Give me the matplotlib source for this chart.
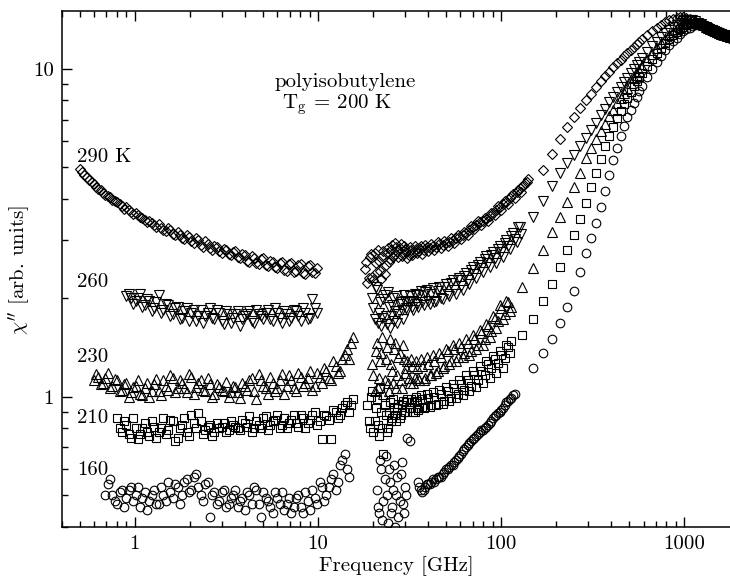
import numpy as np
import matplotlib
matplotlib.use('Agg')
import matplotlib.pyplot as plt
from matplotlib.ticker import LogLocator, NullFormatter

plt.rcParams['font.family'] = ['cmr10']
plt.rcParams['mathtext.fontset'] = 'cm'
plt.rcParams['axes.formatter.use_mathtext'] = True
plt.rcParams['font.size'] = 15

n = np.nan

# frequency grids (GHz), two interleaved sweeps below 150 GHz
f_low = [0.50, 0.53, 0.56, 0.60, 0.63, 0.67, 0.71, 0.75, 0.80, 0.85,
         0.90, 0.95, 1.01, 1.07, 1.13, 1.20, 1.27, 1.35, 1.43, 1.52,
         1.61, 1.71, 1.81, 1.92, 2.03, 2.16, 2.29, 2.42, 2.57, 2.72,
         2.89, 3.06, 3.25, 3.44, 3.65, 3.87, 4.10, 4.35, 4.61, 4.89,
         5.18, 5.49, 5.83, 6.18, 6.55, 6.94, 7.36, 7.81, 8.28, 8.77,
         9.30, 9.86, 10.5, 11.1, 11.8, 12.5, 13.2, 14.0, 14.8, 15.5]
f_low_b = [0.515, 0.545, 0.58, 0.615, 0.65, 0.69, 0.73, 0.775, 0.825, 0.875,
           0.925, 0.98, 1.04, 1.10, 1.165, 1.235, 1.31, 1.39, 1.475, 1.565,
           1.66, 1.76, 1.865, 1.975, 2.095, 2.225, 2.355, 2.495, 2.645, 2.805,
           2.975, 3.155, 3.345, 3.545, 3.76, 3.985, 4.225, 4.48, 4.75, 5.035,
           5.335, 5.66, 6.005, 6.365, 6.745, 7.15, 7.585, 8.045, 8.525, 9.035,
           9.58, 10.2, 10.8, 11.45, 12.15, 12.85, 13.6, 14.4, 15.15]

f_mid = [18.0, 18.6, 19.2, 19.8, 20.4, 21.0, 21.6, 22.2, 22.8, 23.4,
         24.0, 24.7, 25.4, 26.1, 26.8, 27.5, 28.3, 29.1, 29.9, 30.8,
         31.7, 32.7, 33.7, 34.7, 35.8, 37.0, 38.5, 40.0, 41.6, 43.3,
         45.1, 47.0, 49.0, 51.1, 53.3, 55.6, 58.0, 60.5, 63.1, 65.8,
         68.6, 71.6, 74.7, 77.9, 81.3, 84.8, 88.5, 92.3, 96.3, 100,
         105, 109, 114, 119, 124, 129, 135, 141]
f_mid_b = [18.3, 18.9, 19.5, 20.1, 20.7, 21.3, 21.9, 22.5, 23.1, 23.7,
           24.35, 25.05, 25.75, 26.45, 27.15, 27.9, 28.7, 29.5, 30.35, 31.25,
           32.2, 33.2, 34.2, 35.25, 36.4, 37.75, 39.25, 40.8, 42.45, 44.2,
           46.05, 48.0, 50.05, 52.2, 54.45, 56.8, 59.25, 61.8, 64.45, 67.2,
           70.1, 73.15, 76.3, 79.6, 83.05, 86.65, 90.4, 94.3, 98.2, 102.5,
           107, 111.5, 116.5, 121.5, 126.5, 132, 138]

f_high = [130, 150, 170, 190, 210, 230, 250, 270, 290, 310,
          330, 350, 370, 390, 410, 430, 450, 470, 490, 510,
          530, 550, 570, 590, 630, 670, 710, 750, 790, 830,
          870, 910, 950, 990, 1030, 1070, 1110, 1150, 1190, 1230,
          1270, 1310, 1350, 1390, 1430, 1470, 1510, 1550, 1590, 1630,
          1670, 1710, 1750, 1790]

# chi'' [arb. units]
# 290 K
chi_290_low = [4.95, 4.75, 4.58, 4.45, 4.30, 4.18, 4.10, 3.98, 3.92, 3.82,
               3.78, 3.66, 3.62, 3.52, 3.46, 3.42, 3.33, 3.36, 3.22, 3.26,
               3.14, 3.18, 3.05, 3.12, 2.98, 3.04, 2.90, 2.98, 2.84, 2.88,
               2.78, 2.82, 2.72, 2.76, 2.66, 2.72, 2.60, 2.68, 2.56, 2.62,
               2.52, 2.60, 2.48, 2.56, 2.44, 2.54, 2.40, 2.52, 2.38, 2.50,
               2.40, 2.46, n, n, n, n, n, n, n, n]
chi_290_low_b = [4.85, 4.68, 4.50, 4.36, 4.26, 4.12, 4.06, 3.94, 3.88, 3.74,
                 3.72, 3.60, 3.58, 3.50, 3.40, 3.38, 3.30, 3.27, 3.20, 3.22,
                 3.10, 3.12, 3.02, 3.06, 2.94, 3.00, 2.86, 2.92, 2.80, 2.86,
                 2.74, 2.80, 2.70, 2.78, 2.64, 2.70, 2.58, 2.64, 2.54, 2.64,
                 2.50, 2.58, 2.46, 2.58, 2.42, 2.56, 2.42, 2.54, 2.36, 2.52,
                 2.38, n, n, n, n, n, n, n, n]
chi_290_mid = [2.45, 2.22, 2.66, 2.32, 2.74, 2.40, 2.60, 2.28, 2.78, 2.52,
               2.84, 2.62, 2.90, 2.70, 2.86, 2.66, 2.92, 2.72, 2.82, 2.64,
               2.86, 2.70, 2.88, 2.74, 2.84, 2.72, 2.90, 2.78, 2.92, 2.80,
               2.96, 2.84, 2.98, 2.88, 3.04, 2.94, 3.10, 3.02, 3.18, 3.10,
               3.32, 3.24, 3.42, 3.34, 3.50, 3.44, 3.64, 3.58, 3.80, 3.72,
               3.95, 3.88, 4.10, 4.04, 4.28, 4.22, 4.48, 4.60]
chi_290_mid_b = [2.58, 2.30, 2.72, 2.26, 2.56, 2.80, 2.42, 2.68, 2.36, 2.74,
                 2.58, 2.80, 2.66, 2.94, 2.76, 2.84, 2.68, 2.88, 2.76, 2.70,
                 2.80, 2.76, 2.82, 2.78, 2.88, 2.80, 2.86, 2.84, 2.88, 2.86,
                 2.92, 2.90, 2.94, 2.96, 3.00, 3.04, 3.06, 3.12, 3.16, 3.22,
                 3.28, 3.34, 3.40, 3.44, 3.48, 3.56, 3.62, 3.70, 3.78, 3.86,
                 3.92, 4.02, 4.16, 4.20, 4.34, 4.40, 4.52]
chi_290_high = [n, n, 4.90, 5.48, 6.10, 6.65, 7.12, 7.58, 8.00, 8.40,
                8.80, 9.15, 9.48, 9.80, 10.1, 10.4, 10.65, 10.9, 11.15, 11.4,
                11.65, 11.9, 12.1, 12.3, 12.7, 13.05, 13.35, 13.6, 13.85, 14.05,
                14.2, 14.3, 14.35, 14.35, 14.3, 14.2, 14.0, 13.85, 13.7, 13.55,
                13.4, 13.3, 13.15, 13.05, 12.95, 12.85, 12.8, 12.7, 12.65, 12.6,
                12.55, 12.5, 12.45, 12.4]

# 260 K
chi_260_low = [n, n, n, n, n, n, n, n, n, n,
               2.02, 2.00, 1.96, 2.06, 1.90, 1.95, 1.86, 2.04, 1.84, 1.90,
               1.78, 1.88, 1.74, 1.86, 1.80, 1.70, 1.84, 1.76, 1.86, 1.72,
               1.80, 1.66, 1.78, 1.74, 1.82, 1.72, 1.78, 1.70, 1.84, 1.76,
               1.80, 1.72, 1.86, 1.74, 1.82, 1.70, 1.84, 1.76, 1.86, 1.72,
               1.98, 1.80, n, n, n, n, n, n, n, n]
chi_260_low_b = [n, n, n, n, n, n, n, n, n, n,
                 2.06, 1.92, 2.00, 1.88, 1.98, 1.82, 1.94, 1.80, 1.92, 1.76,
                 1.86, 1.72, 1.82, 1.70, 1.84, 1.76, 1.68, 1.80, 1.74, 1.84,
                 1.70, 1.82, 1.68, 1.78, 1.64, 1.76, 1.82, 1.68, 1.78, 1.72,
                 1.84, 1.70, 1.80, 1.68, 1.78, 1.74, 1.82, 1.70, 1.80, 1.74,
                 1.86, n, n, n, n, n, n, n, n]
chi_260_mid = [n, n, n, 2.00, 1.72, 2.12, 1.80, 1.64, 1.98, 1.76,
               2.08, 1.62, 1.90, 1.70, 2.02, 1.78, 1.94, 1.72, 1.96, 1.84,
               2.02, 1.88, 2.06, 1.92, 2.04, 1.94, 2.08, 1.96, 2.06, 1.94,
               2.10, 2.00, 2.16, 2.06, 2.22, 2.12, 2.26, 2.18, 2.34, 2.26,
               2.44, 2.36, 2.52, 2.46, 2.62, 2.56, 2.70, 2.64, 2.82, 2.76,
               2.94, 2.88, 3.08, 3.02, 3.28, 3.14, n, n]
chi_260_mid_b = [n, n, n, 1.86, 2.16, 1.68, 1.94, 1.74, 2.04, 1.66,
                 1.88, 1.76, 2.00, 1.82, 1.68, 1.92, 1.84, 2.04, 1.86, 1.94,
                 1.96, 1.84, 2.04, 1.88, 2.10, 1.90, 2.12, 1.92, 2.14, 1.96,
                 2.16, 1.98, 2.20, 2.02, 2.26, 2.06, 2.30, 2.12, 2.38, 2.20,
                 2.48, 2.30, 2.58, 2.40, 2.68, 2.48, 2.76, 2.56, 2.88, 2.66,
                 3.00, 2.82, 3.16, 2.96, 3.30, n, n]
chi_260_high = [n, 3.54, 3.95, 4.40, 4.80, 5.15, 5.45, 5.80, 6.15, 6.50,
                6.85, 7.20, 7.55, 7.90, 8.20, 8.50, 8.80, 9.10, 9.40, 9.70,
                10.0, 10.25, 10.5, 10.75, 11.25, 11.7, 12.1, 12.5, 12.85, 13.15,
                13.4, 13.6, 13.8, 13.95, 14.05, 14.1, 14.05, 13.95, 13.8, 13.65,
                13.5, 13.38, 13.25, 13.15, 13.05, 12.95, 12.88, 12.8, 12.72, 12.66,
                12.6, 12.55, 12.5, 12.45]

# 230 K
chi_230_low = [n, n, n, 1.12, 1.15, 1.10, 1.18, 1.08, 1.12, 1.05,
               1.10, 1.03, 1.08, 1.02, 1.06, 1.00, 1.09, 1.04, 1.12, 1.05,
               1.14, 1.06, 1.10, 1.03, 1.15, 1.07, 1.12, 1.04, 1.09, 1.02,
               1.07, 1.04, 1.00, 1.08, 1.03, 1.10, 1.05, 1.14, 0.98, 1.12,
               1.06, 1.15, 1.04, 1.12, 1.02, 1.16, 1.06, 1.18, 1.08, 1.14,
               1.05, 1.18, 1.10, 1.20, 1.12, 1.24, 1.20, 1.34, 1.30, 1.52]
chi_230_low_b = [n, n, n, 1.17, 1.09, 1.14, 1.06, 1.13, 1.04, 1.09,
                 1.00, 1.07, 1.12, 1.01, 1.10, 1.04, 1.13, 1.01, 1.08, 1.16,
                 1.03, 1.12, 1.06, 1.17, 1.02, 1.10, 1.05, 1.14, 1.00, 1.09,
                 1.05, 1.11, 1.03, 1.07, 0.99, 1.08, 1.12, 1.04, 1.17, 1.08,
                 1.02, 1.10, 1.06, 1.17, 1.08, 1.12, 1.04, 1.15, 1.10, 1.20,
                 1.08, 1.15, 1.22, 1.14, 1.28, 1.18, 1.30, 1.40, 1.46]
chi_230_mid = [n, n, n, 1.26, 1.04, 1.46, 1.14, 1.36, 1.02, 1.30,
               1.10, 1.50, 1.20, 1.40, 1.06, 1.32, 1.12, 1.44, 1.18, 1.28,
               1.10, 1.24, 1.14, 1.22, 1.12, 1.24, 1.14, 1.26, 1.16, 1.28,
               1.20, 1.32, 1.24, 1.38, 1.28, 1.40, 1.32, 1.42, 1.36, 1.46,
               1.38, 1.50, 1.44, 1.56, 1.50, 1.64, 1.58, 1.74, 1.70, 1.86,
               1.78, 1.94, 1.88, n, n, n, n, n]
chi_230_mid_b = [n, n, n, 1.16, 1.38, 1.06, 1.28, 1.52, 1.12, 1.42,
                 1.04, 1.26, 1.10, 1.46, 1.16, 1.36, 1.06, 1.30, 1.22, 1.14,
                 1.30, 1.10, 1.28, 1.14, 1.30, 1.12, 1.32, 1.16, 1.34, 1.18,
                 1.36, 1.22, 1.40, 1.26, 1.44, 1.28, 1.46, 1.32, 1.50, 1.34,
                 1.54, 1.40, 1.60, 1.44, 1.66, 1.52, 1.76, 1.62, 1.90, 1.72,
                 1.96, 1.82, n, n, n, n, n]
chi_230_high = [2.16, 2.47, 2.80, 3.17, 3.52, 3.92, 4.35, 4.82, 5.35, 5.75,
                6.10, 6.45, 6.80, 7.15, 7.50, 7.85, 8.15, 8.45, 8.75, 9.05,
                9.35, 9.60, 9.85, 10.1, 10.6, 11.1, 11.55, 11.95, 12.3, 12.65,
                12.95, 13.2, 13.45, 13.65, 13.8, 13.9, 13.95, 13.9, 13.8, 13.7,
                13.58, 13.45, 13.33, 13.22, 13.12, 13.02, 12.93, 12.85, 12.78, 12.72,
                12.66, 12.6, 12.55, 12.5]

# 210 K
chi_210_low = [n, n, n, n, n, n, n, n, 0.86, 0.78,
               0.82, 0.75, 0.80, 0.77, 0.83, 0.76, 0.81, 0.78, 0.86, 0.79,
               0.84, 0.75, 0.82, 0.78, 0.88, 0.80, 0.84, 0.79, 0.82, 0.78,
               0.80, 0.83, 0.79, 0.82, 0.80, 0.85, 0.81, 0.78, 0.84, 0.80,
               0.87, 0.82, 0.85, 0.80, 0.86, 0.83, 0.88, 0.81, 0.86, 0.83,
               0.88, 0.82, 0.74, 0.87, 0.74, 0.90, 0.88, 0.94, 0.90, 0.98]
chi_210_low_b = [n, n, n, n, n, n, n, n, 0.80, 0.84,
                 0.77, 0.86, 0.74, 0.80, 0.78, 0.84, 0.75, 0.80, 0.77, 0.85,
                 0.73, 0.80, 0.86, 0.76, 0.83, 0.89, 0.77, 0.81, 0.76, 0.83,
                 0.81, 0.78, 0.84, 0.81, 0.79, 0.83, 0.87, 0.80, 0.82, 0.86,
                 0.79, 0.84, 0.88, 0.82, 0.80, 0.85, 0.83, 0.88, 0.80, 0.85,
                 0.90, 0.84, 0.88, 0.85, 0.91, 0.86, 0.92, 0.96, 0.94]
chi_210_mid = [n, 0.94, 0.80, 1.04, 0.84, 0.98, 0.76, 0.90, 0.67, 0.88,
               0.80, 0.96, 0.86, 0.92, 0.84, 0.95, 0.88, 0.97, 0.90, 0.98,
               0.92, 0.96, 0.90, 0.97, 0.92, 0.98, 0.93, 0.99, 0.94, 1.00,
               0.95, 1.02, 0.97, 1.04, 0.99, 1.06, 1.02, 1.09, 1.05, 1.12,
               1.08, 1.16, 1.12, 1.20, 1.16, 1.26, 1.22, 1.30, 1.27, 1.34,
               1.31, 1.42, 1.48, n, n, n, n, n]
chi_210_mid_b = [n, 0.84, 1.00, 0.78, 0.92, 0.82, 1.06, 0.80, 0.94, 0.78,
                 0.90, 0.84, 0.98, 0.88, 0.92, 0.86, 0.94, 0.90, 0.96, 0.92,
                 0.98, 0.90, 1.00, 0.91, 1.01, 0.92, 1.02, 0.93, 1.03, 0.94,
                 1.05, 0.95, 1.07, 0.97, 1.09, 0.99, 1.12, 1.01, 1.16, 1.04,
                 1.20, 1.07, 1.24, 1.10, 1.28, 1.14, 1.33, 1.18, 1.38, 1.22,
                 1.44, 1.36, n, n, n, n, n]
chi_210_high = [1.54, 1.73, 1.95, 2.20, 2.48, 2.80, 3.12, 3.48, 3.90, 4.35,
                4.82, 5.32, 5.80, 6.22, 6.62, 7.05, 7.45, 7.80, 8.15, 8.50,
                8.85, 9.15, 9.45, 9.70, 10.2, 10.7, 11.15, 11.6, 12.0, 12.35,
                12.65, 12.95, 13.2, 13.4, 13.6, 13.7, 13.8, 13.8, 13.75, 13.68,
                13.6, 13.5, 13.4, 13.3, 13.2, 13.1, 13.0, 12.92, 12.85, 12.78,
                12.72, 12.66, 12.6, 12.55]

# 160 K
chi_160_low = [n, n, n, n, n, n, 0.54, 0.50, 0.47, 0.52,
               0.49, 0.53, 0.50, 0.46, 0.51, 0.48, 0.52, 0.47, 0.50, 0.55,
               0.49, 0.53, 0.50, 0.56, 0.52, 0.58, 0.50, 0.54, 0.43, 0.51,
               0.48, 0.52, 0.47, 0.50, 0.46, 0.49, 0.51, 0.47, 0.52, 0.43,
               0.49, 0.46, 0.51, 0.47, 0.45, 0.49, 0.46, 0.50, 0.44, 0.48,
               0.52, 0.47, 0.53, 0.50, 0.56, 0.52, 0.62, 0.67, 0.57, n]
chi_160_low_b = [n, n, n, n, n, 0.50, 0.56, 0.48, 0.51, 0.46,
                 0.52, 0.48, 0.53, 0.49, 0.45, 0.50, 0.47, 0.53, 0.48, 0.51,
                 0.54, 0.47, 0.55, 0.51, 0.57, 0.53, 0.48, 0.55, 0.50, 0.47,
                 0.51, 0.46, 0.49, 0.52, 0.48, 0.45, 0.50, 0.53, 0.47, 0.51,
                 0.48, 0.44, 0.49, 0.51, 0.47, 0.44, 0.49, 0.46, 0.51, 0.45,
                 0.49, 0.55, 0.48, 0.53, 0.58, 0.55, 0.64, 0.60, n]
chi_160_mid = [n, n, n, n, n, 0.52, 0.44, 0.60, 0.48, 0.66,
               0.41, 0.55, 0.46, 0.62, 0.50, 0.43, 0.58, 0.47, 0.53, 0.75,
               0.73, n, n, n, 0.53, 0.51, 0.53, 0.54, 0.55, 0.55,
               0.57, 0.57, 0.59, 0.60, 0.62, 0.63, 0.65, 0.67, 0.69, 0.71,
               0.73, 0.75, 0.77, 0.79, 0.80, 0.82, 0.84, 0.87, 0.89, 0.91,
               0.94, 0.97, 0.99, 1.02, n, n, n, n]
chi_160_mid_b = [n, n, n, n, n, 0.46, 0.64, 0.42, 0.56, 0.50,
                 0.60, 0.44, 0.52, 0.40, 0.57, 0.48, 0.63, 0.44, 0.50, n,
                 n, n, n, 0.55, 0.52, 0.52, 0.54, 0.54, 0.56, 0.56,
                 0.57, 0.58, 0.60, 0.61, 0.62, 0.64, 0.66, 0.68, 0.70, 0.72,
                 0.74, 0.76, 0.78, 0.79, 0.81, 0.83, 0.86, 0.88, 0.90, 0.92,
                 0.96, 0.98, 1.01, n, n, n, n]
chi_160_high = [n, 1.22, 1.36, 1.50, 1.68, 1.88, 2.10, 2.40, 2.75, 3.05,
                3.38, 3.78, 4.25, 4.75, 5.25, 5.75, 6.25, 6.70, 7.10, 7.50,
                7.85, 8.20, 8.55, 8.85, 9.45, 10.0, 10.5, 10.95, 11.4, 11.8,
                12.15, 12.45, 12.75, 13.0, 13.2, 13.35, 13.5, 13.6, 13.65, 13.65,
                13.6, 13.52, 13.45, 13.35, 13.25, 13.15, 13.05, 12.97, 12.9, 12.82,
                12.76, 12.7, 12.64, 12.58]

f_all = f_low + f_low_b + f_mid + f_mid_b + f_high
series = [
    (chi_290_low + chi_290_low_b + chi_290_mid + chi_290_mid_b + chi_290_high, 'D', 5.2),
    (chi_260_low + chi_260_low_b + chi_260_mid + chi_260_mid_b + chi_260_high, 'v', 7.0),
    (chi_230_low + chi_230_low_b + chi_230_mid + chi_230_mid_b + chi_230_high, '^', 7.0),
    (chi_210_low + chi_210_low_b + chi_210_mid + chi_210_mid_b + chi_210_high, 's', 5.6),
    (chi_160_low + chi_160_low_b + chi_160_mid + chi_160_mid_b + chi_160_high, 'o', 6.2),
]

fig = plt.figure(figsize=(7.3, 5.82), dpi=100)
ax = fig.add_axes([62/730, 1-527/582, 668/730, 516/582])

for chi, mk, ms in series:
    ax.plot(f_all, chi, ls='none', marker=mk, ms=ms, mfc='none', mec='k', mew=0.8)

ax.set_xscale('log')
ax.set_yscale('log')
ax.set_xlim(0.4, 1780)
ax.set_ylim(0.4, 15)

ax.set_xticks([1, 10, 100, 1000])
ax.set_xticklabels(['1', '10', '100', '1000'])
ax.set_yticks([1, 10])
ax.set_yticklabels(['1', '10'])
ax.xaxis.set_minor_locator(LogLocator(base=10, subs=np.arange(2, 10)))
ax.yaxis.set_minor_locator(LogLocator(base=10, subs=np.arange(2, 10)))
ax.xaxis.set_minor_formatter(NullFormatter())
ax.yaxis.set_minor_formatter(NullFormatter())

ax.spines['right'].set_visible(False)
for s in ['left', 'bottom', 'top']:
    ax.spines[s].set_linewidth(1.1)
ax.tick_params(which='both', direction='in', top=True, right=False, width=1.0)
ax.tick_params(which='major', length=7.5, pad=6)
ax.tick_params(which='minor', length=4.5)

ax.set_xlabel('Frequency [GHz]')
ax.xaxis.set_label_coords(0.5, -(556-527)/516)
ax.set_ylabel(r"$\chi''$ [arb. units]")
ax.yaxis.set_label_coords(-(62-33)/668, (527-270)/516)

ax.text((345-62)/668, (527-87)/516, 'polyisobutylene', transform=ax.transAxes,
        ha='center', va='baseline')
ax.text((337-62)/668, (527-108)/516, r'$\mathrm{T_g}$ = 200 K', transform=ax.transAxes,
        ha='center', va='baseline')

labels = ['290 K', '260', '230', '210', '160']
label_y = [162, 287, 362, 423, 475]
for lab, py in zip(labels, label_y):
    ax.text((77-62)/668, (527-py)/516, lab, transform=ax.transAxes,
            ha='left', va='baseline')

fig.savefig('out.png', dpi=100)
